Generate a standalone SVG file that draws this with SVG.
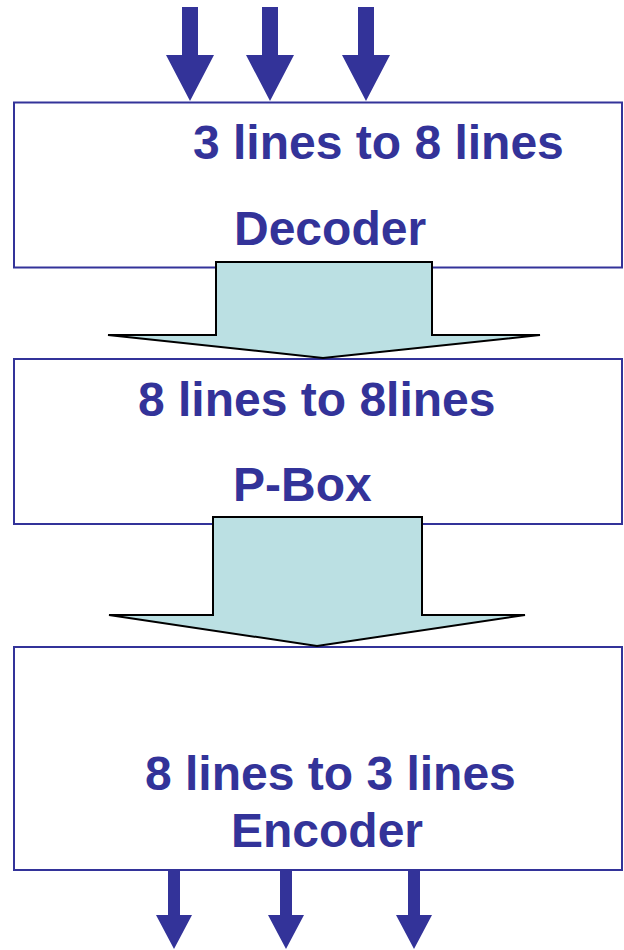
<svg xmlns="http://www.w3.org/2000/svg" width="624" height="950" viewBox="0 0 624 950">
  <style>
    .box { fill: #ffffff; stroke: #333399; stroke-width: 2; }
    .lbl { font-family: "Liberation Sans", Arial, Helvetica, sans-serif; font-weight: bold; font-size: 48px; fill: #333399; }
    .pin { fill: #333399; stroke: none; }
    .flow { fill: #bbe0e3; stroke: #000000; stroke-width: 2; stroke-linejoin: miter; }
  </style>
  <rect width="624" height="950" fill="#ffffff"/>

  <!-- stages -->
  <g id="decoder">
    <rect class="box" x="14" y="102.5" width="608" height="165"/>
    <text class="lbl" x="193" y="159">3 lines to 8 lines</text>
    <text class="lbl" x="234" y="245">Decoder</text>
  </g>
  <g id="pbox">
    <rect class="box" x="14" y="359" width="608" height="165"/>
    <text class="lbl" x="138" y="416">8 lines to 8lines</text>
    <text class="lbl" x="233" y="501">P-Box</text>
  </g>
  <g id="encoder">
    <rect class="box" x="14" y="647" width="608" height="223"/>
    <text class="lbl" x="145" y="790">8 lines to 3 lines</text>
    <text class="lbl" x="231" y="847">Encoder</text>
  </g>

  <!-- connectors -->
  <g id="connectors">
    <!-- three input lines -->
    <polygon class="pin" points="182,7 198,7 198,55 214,55 190,101 166,55 182,55"/>
    <polygon class="pin" points="262,7 278,7 278,55 294,55 270,101 246,55 262,55"/>
    <polygon class="pin" points="358,7 374,7 374,55 390,55 366,101 342,55 358,55"/>
    <!-- block transfers between stages -->
    <polygon class="flow" points="216,262 432,262 432,335 540,335 323,358 108,335 216,335"/>
    <polygon class="flow" points="213,517 422,517 422,615 525,615 317,646 109,615 213,615"/>
    <!-- three output lines -->
    <polygon class="pin" points="168,870 180,870 180,915 192,915 174,949 156,915 168,915"/>
    <polygon class="pin" points="280,870 292,870 292,915 304,915 286,949 268,915 280,915"/>
    <polygon class="pin" points="408,870 420,870 420,915 432,915 414,949 396,915 408,915"/>
  </g>
</svg>
